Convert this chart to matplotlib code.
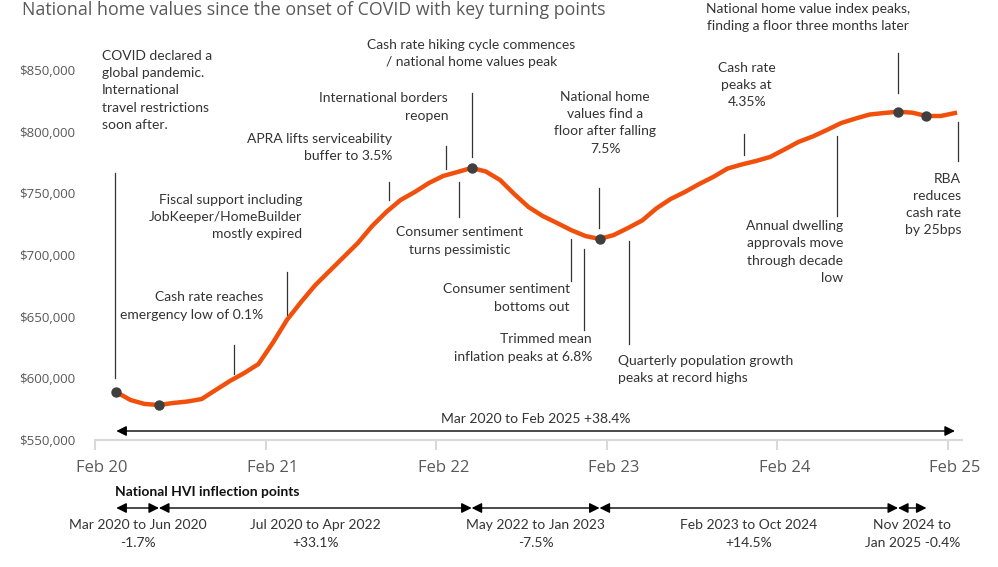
import matplotlib
matplotlib.use("Agg")
import matplotlib.pyplot as plt
import numpy as np

# monthly national home values, Mar 2020 .. Feb 2025
months = ["Mar 20", "Apr 20", "May 20", "Jun 20", "Jul 20", "Aug 20", "Sep 20", "Oct 20", "Nov 20",
          "Dec 20", "Jan 21", "Feb 21", "Mar 21", "Apr 21", "May 21", "Jun 21", "Jul 21", "Aug 21",
          "Sep 21", "Oct 21", "Nov 21", "Dec 21", "Jan 22", "Feb 22", "Mar 22", "Apr 22", "May 22",
          "Jun 22", "Jul 22", "Aug 22", "Sep 22", "Oct 22", "Nov 22", "Dec 22", "Jan 23", "Feb 23",
          "Mar 23", "Apr 23", "May 23", "Jun 23", "Jul 23", "Aug 23", "Sep 23", "Oct 23", "Nov 23",
          "Dec 23", "Jan 24", "Feb 24", "Mar 24", "Apr 24", "May 24", "Jun 24", "Jul 24", "Aug 24",
          "Sep 24", "Oct 24", "Nov 24", "Dec 24", "Jan 25", "Feb 25"]
values = [588900, 582400, 579200, 578400, 580000, 581200, 583200, 590600, 597900,
          604300, 611600, 628600, 647300, 661900, 675600, 687000, 698400, 709800,
          723500, 734900, 744600, 751100, 758400, 764100, 767300, 770600, 767700,
          760800, 749400, 738900, 731600, 726000, 720200, 715400, 713000, 716200,
          721900, 728000, 737800, 745400, 751100, 757500, 763300, 770100, 773400,
          776200, 779500, 785500, 791700, 796100, 801400, 807000, 810600, 813900,
          815100, 816200, 815400, 812700, 812700, 815100]

# turning points marked with dots
dot_months = ["Mar 20", "Jun 20", "Apr 22", "Jan 23", "Oct 24", "Dec 24"]

# inflection periods (from dot, to dot, label)
segments = [
    ("Mar 20", "Jun 20", "Mar 2020 to Jun 2020\n-1.7%"),
    ("Jun 20", "Apr 22", "Jul 2020 to Apr 2022\n+33.1%"),
    ("Apr 22", "Jan 23", "May 2022 to Jan 2023\n-7.5%"),
    ("Jan 23", "Oct 24", "Feb 2023 to Oct 2024\n+14.5%"),
    ("Oct 24", "Dec 24", "Nov 2024 to\nJan 2025 -0.4%"),
]
total_label = "Mar 2020 to Feb 2025 +38.4%"

year_labels = ["Feb 20", "Feb 21", "Feb 22", "Feb 23", "Feb 24", "Feb 25"]
y_ticks = [550000, 600000, 650000, 700000, 750000, 800000, 850000]

# annotations: text, pixel position of text (x, y centre), alignment, marker line (x, y0, y1) in pixels
notes = [
    ("COVID declared a\nglobal pandemic.\nInternational\ntravel restrictions\nsoon after.", 102, 90.5, "left", (114.5, 173, 378)),
    ("Cash rate reaches\nemergency low of 0.1%", 263, 306, "right", (233.5, 345, 374)),
    ("Fiscal support including\nJobKeeper/HomeBuilder\nmostly expired", 302, 217, "right", (286.7, 271.7, 315)),
    ("APRA lifts serviceability\nbuffer to 3.5%", 392, 147.5, "right", (389.3, 181.7, 200)),
    ("International borders\nreopen", 448, 107, "right", (446, 145.7, 169.3)),
    ("Cash rate hiking cycle commences\n/ national home values peak", 471.5, 53.5, "center", (471.5, 93.3, 156.7)),
    ("Consumer sentiment\nturns pessimistic", 460, 241, "center", (459.3, 181.7, 217.3)),
    ("National home\nvalues find a\nfloor after falling\n7.5%", 605, 122.8, "center", (599.3, 188.3, 228.3)),
    ("Consumer sentiment\nbottoms out", 570, 298, "right", (571, 239.3, 280.7)),
    ("Trimmed mean\ninflation peaks at 6.8%", 592, 348, "right", (584, 249.3, 330)),
    ("Quarterly population growth\npeaks at record highs", 618, 369.7, "left", (629, 241, 344.3)),
    ("Cash rate\npeaks at\n4.35%", 746.7, 85, "center", (744.3, 134.3, 155)),
    ("Annual dwelling\napprovals move\nthrough decade\nlow", 843, 252, "right", (837.3, 135.7, 216)),
    ("National home value index peaks,\nfinding a floor three months later", 808, 17.5, "center", (898.3, 53, 93)),
    ("RBA\nreduces\ncash rate\nby 25bps", 961, 204.7, "right", (957.7, 121.7, 161)),
]

W, H = 998, 567
TXT = "#333333"
GREY = "#595959"
ORANGE = "#F0500C"
FS = 10
LS = 1.52
plt.rcParams["font.family"] = ["Lato", "DejaVu Sans"]

fig = plt.figure(figsize=(W / 100, H / 100), dpi=100)
ax_l, ax_r, ax_b, ax_t = 95, 962, 440, 70
ax = fig.add_axes([ax_l / W, 1 - ax_b / H, (ax_r - ax_l) / W, (ax_b - ax_t) / H])

n_cat = len(months) + 1  # Feb 2020 .. Feb 2025
ax.set_xlim(0, n_cat)
ax.set_ylim(y_ticks[0], y_ticks[-1])

x = np.arange(1, len(months) + 1) + 0.5
ax.plot(x, values, color=ORANGE, lw=3.2, solid_joinstyle="round", zorder=3, clip_on=False)
idx = [months.index(m) for m in dot_months]
ax.scatter(x[idx], np.array(values)[idx], s=42, color="#3f3f3f", zorder=4, clip_on=False)

for s in ["top", "right", "left"]:
    ax.spines[s].set_visible(False)
ax.spines["bottom"].set_color("#d9d9d9")
ax.spines["bottom"].set_linewidth(1.5)
ax.set_yticks(y_ticks)
ax.set_yticklabels([f"${v:,.0f}" for v in y_ticks], fontsize=9.5, color=GREY, family="Open Sans")
ax.tick_params(axis="y", length=0, pad=14)
ax.set_xticks(np.arange(0, n_cat, 12))
ax.set_xticklabels([])
ax.tick_params(axis="x", length=7, width=1.5, color="#d9d9d9")
for i, lab in enumerate(year_labels):
    ax.text(i * 12 + 0.5, -0.075, lab, transform=ax.get_xaxis_transform(), ha="center", va="center",
            fontsize=12, color=GREY, family="Open Sans")


def px(xp, yp):
    """pixel position (from top-left) -> data coordinates"""
    xd = (xp - ax_l) / (ax_r - ax_l) * n_cat
    yd = y_ticks[0] + (ax_b - yp) / (ax_b - ax_t) * (y_ticks[-1] - y_ticks[0])
    return xd, yd


for text, tx, ty, ha, (lx, ly0, ly1) in notes:
    xd, yd = px(tx, ty)
    ax.text(xd, yd, text, ha=ha, va="center", multialignment=ha, fontsize=FS, color=TXT,
            linespacing=LS, clip_on=False)
    xl, y0 = px(lx, ly0)
    _, y1 = px(lx, ly1)
    ax.plot([xl, xl], [y0, y1], color="#333333", lw=0.9, clip_on=False)

# overall change arrow
_, ya = px(0, 431)
ax.annotate("", xy=(x[-1], ya), xytext=(x[0], ya),
            arrowprops=dict(arrowstyle="<|-|>", color="black", lw=1, mutation_scale=15, shrinkA=0, shrinkB=0),
            annotation_clip=False)
_, yt = px(0, 419)
ax.text((x[0] + x[-1]) / 2, yt, total_label, ha="center", va="center", fontsize=FS, color=TXT)

# inflection point periods
_, yb = px(0, 508)
_, yh = px(0, 492)
ax.text(x[0] - 0.1, yh, "National HVI inflection points", ha="left", va="center", fontsize=FS,
        fontweight="bold", color="#111111", clip_on=False)
_, ylab = px(0, 534)
for a, b, lab in segments:
    xa, xb = x[months.index(a)], x[months.index(b)]
    ax.annotate("", xy=(xb, yb), xytext=(xa, yb),
                arrowprops=dict(arrowstyle="<|-|>", color="black", lw=1, mutation_scale=15, shrinkA=0, shrinkB=0),
                annotation_clip=False)
    ax.text((xa + xb) / 2, ylab, lab, ha="center", va="center", fontsize=FS, color=TXT,
            linespacing=LS, clip_on=False)

fig.text(22 / W, 1 - 10 / H, "National home values since the onset of COVID with key turning points",
         ha="left", va="center", fontsize=12.8, color=GREY, family="Open Sans")

fig.savefig("out.png", dpi=100, facecolor="white")
